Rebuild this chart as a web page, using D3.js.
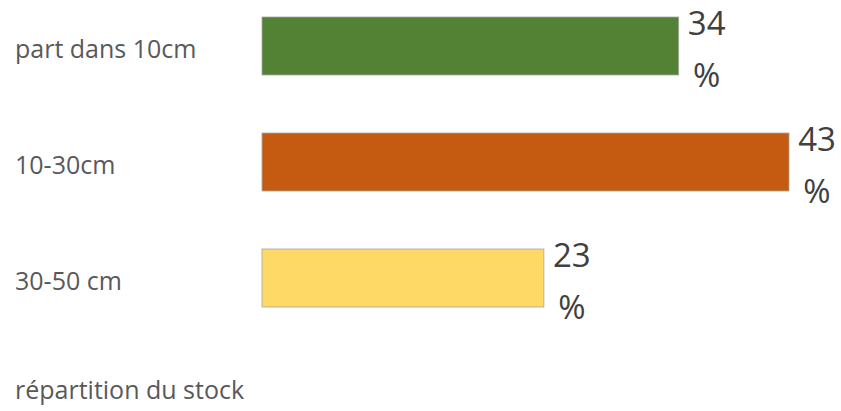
<!DOCTYPE html>
<html>
<head>
<meta charset="utf-8">
<script src="https://cdn.jsdelivr.net/npm/d3@7"></script>
<style>
  html, body { margin: 0; padding: 0; background: #ffffff; }
  svg { display: block; }
</style>
</head>
<body>
<svg id="chart" width="841" height="411"></svg>
<script>
// Soil carbon stock split by depth layer
const categories = ["part dans 10cm", "10-30cm", "30-50 cm"];
const shares = [34, 43, 23];
const barColors = ["#548235", "#C55A11", "#FFD966"];
const chartTitle = "répartition du stock";

const svg = d3.select("#chart");
const font = "'Open Sans', 'Noto Sans', sans-serif";

const x = d3.scaleLinear()
  .domain([0, d3.max(shares)])
  .range([262, 789]);

const y = d3.scaleBand()
  .domain(categories)
  .range([17, 307])
  .paddingInner(0.5)
  .paddingOuter(0);

const rows = categories.map((c, i) => ({ cat: c, value: shares[i], color: barColors[i] }));

// bars
svg.append("g")
  .selectAll("rect")
  .data(rows)
  .join("rect")
  .attr("x", x(0))
  .attr("y", d => y(d.cat))
  .attr("width", d => x(d.value) - x(0))
  .attr("height", y.bandwidth())
  .attr("fill", d => d.color)
  .attr("stroke", "#a6a6a6")
  .attr("stroke-width", 0.8);

// category labels on the left
const yAxis = svg.append("g")
  .attr("transform", "translate(15,0)")
  .call(d3.axisLeft(y).tickSize(0).tickPadding(0));
yAxis.select(".domain").remove();
yAxis.selectAll("text")
  .attr("text-anchor", "start")
  .attr("dy", "0.47em")
  .attr("dx", 0)
  .attr("fill", "#595959")
  .style("font-family", font)
  .style("font-size", "25px");

// value labels, wrapped onto two lines
const labels = svg.append("g")
  .selectAll("text")
  .data(rows)
  .join("text")
  .attr("text-anchor", "middle")
  .attr("fill", "#404040")
  .style("font-family", font)
  .style("font-size", "33px");

labels.append("tspan")
  .attr("x", d => x(d.value) + 28)
  .attr("y", d => y(d.cat) + 18)
  .text(d => d.value);

labels.append("tspan")
  .attr("x", d => x(d.value) + 28)
  .attr("y", d => y(d.cat) + 70)
  .text("%");

// chart title below the bars
svg.append("text")
  .attr("x", 15)
  .attr("y", 399)
  .attr("fill", "#595959")
  .style("font-family", font)
  .style("font-size", "25px")
  .text(chartTitle);
</script>
</body>
</html>
